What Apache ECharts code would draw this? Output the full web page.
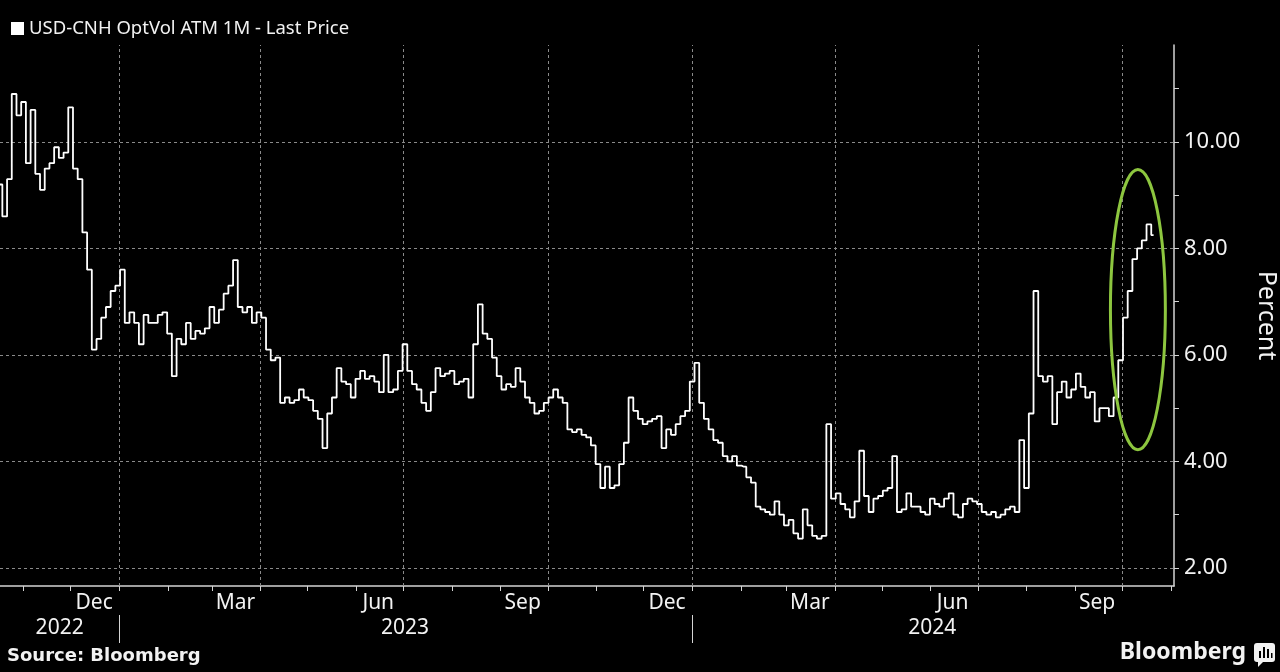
<!DOCTYPE html>
<html>
<head>
<meta charset="utf-8">
<script src="https://cdn.jsdelivr.net/npm/echarts@6/dist/echarts.min.js"></script>
<style>
html,body{margin:0;padding:0;background:#000;}
#chart{width:1280px;height:672px;}
</style>
</head>
<body>
<div id="chart"></div>
<script>
// ---- data ----
const seriesName = 'USD-CNH OptVol ATM 1M - Last Price';
const startDate = '2022-10-17';
const stepDays = 3;
const values = [
  9.2, 8.6, 9.3, 10.9, 10.5, 10.75, 9.6, 10.6, 9.4, 9.1, 9.5, 9.6, 9.9, 9.7, 9.8, 10.65, 9.5, 9.3, 8.3, 7.6,
  6.1, 6.3, 6.7, 6.9, 7.2, 7.3, 7.6, 6.6, 6.8, 6.6, 6.2, 6.75, 6.6, 6.6, 6.75, 6.8, 6.4, 5.6, 6.3, 6.2,
  6.6, 6.3, 6.45, 6.4, 6.5, 6.9, 6.6, 6.85, 7.15, 7.3, 7.78, 6.9,
  6.8, 6.9, 6.6, 6.8, 6.7, 6.1, 5.9, 5.95, 5.1, 5.2, 5.1, 5.15, 5.35, 5.2, 5.15, 4.95, 4.8, 4.25, 4.9, 5.2,
  5.75, 5.5, 5.45, 5.2, 5.55, 5.7, 5.55, 5.6, 5.5, 5.3, 6.0, 5.3, 5.35, 5.7, 6.2, 5.7, 5.45, 5.35, 5.1, 4.95,
  5.3, 5.75, 5.6, 5.65, 5.7, 5.45, 5.5, 5.55, 5.2, 6.2, 6.95,
  6.4, 6.3, 5.95, 5.6, 5.35, 5.45, 5.4, 5.75, 5.5, 5.2, 5.1, 4.9, 4.95, 5.1, 5.2, 5.35, 5.2, 5.1, 4.6, 4.55,
  4.6, 4.5, 4.45, 4.3, 3.95, 3.5, 3.9, 3.5, 3.55, 3.95, 4.35, 5.2, 4.95, 4.8, 4.7, 4.75, 4.8, 4.85, 4.25, 4.6,
  4.5, 4.7, 4.85, 4.95, 5.5, 5.85, 5.1, 4.8, 4.6, 4.4, 4.35,
  4.1, 4.0, 4.1, 3.92, 3.9, 3.7, 3.6, 3.15, 3.1, 3.05, 3.0, 3.25, 3.0, 2.8, 2.9, 2.65, 2.55, 3.1, 2.8, 2.6,
  2.55, 2.6, 4.7, 3.3, 3.4, 3.2, 3.1, 2.95, 3.25, 4.2, 3.35, 3.05, 3.3, 3.35, 3.45, 3.5, 4.1, 3.05, 3.1, 3.4,
  3.15, 3.15, 3.05, 3.0, 3.3, 3.2, 3.15, 3.3, 3.4, 3.0, 2.95,
  3.2, 3.3, 3.25, 3.2, 3.05, 3.0, 3.05, 2.95, 3.0, 3.1, 3.15, 3.05, 4.4, 3.5, 4.9, 7.2, 5.6, 5.5, 5.6, 4.7,
  5.3, 5.5, 5.2, 5.35, 5.65, 5.4, 5.2, 5.3, 4.75, 5.0, 5.0, 4.85, 5.2, 5.9, 6.7, 7.2, 7.8, 8.0, 8.15, 8.45, 8.25
];
const xRange = ['2022-10-17', '2024-11-03'];
const yRange = [1.66, 11.82];
const yTickValues = [2, 3, 4, 5, 6, 7, 8, 9, 10, 11];
const yLabelValues = [2, 4, 6, 8, 10];
const monthTickDates = ['2022-11-01','2022-12-01','2023-01-01','2023-02-01','2023-03-01','2023-04-01','2023-05-01','2023-06-01','2023-07-01','2023-08-01','2023-09-01','2023-10-01','2023-11-01','2023-12-01','2024-01-01','2024-02-01','2024-03-01','2024-04-01','2024-05-01','2024-06-01','2024-07-01','2024-08-01','2024-09-01','2024-10-01','2024-11-01'];
const monthLabelDates = ['2022-12-16','2023-03-16','2023-06-15','2023-09-15','2023-12-16','2024-03-16','2024-06-15','2024-09-15'];
const monthNames = ['Jan','Feb','Mar','Apr','May','Jun','Jul','Aug','Sep','Oct','Nov','Dec'];
const gridDates = ['2023-01-01','2023-04-01','2023-07-01','2023-10-01','2024-01-01','2024-04-01','2024-07-01','2024-10-01'];
const yearTickDates = ['2023-01-01','2024-01-01'];
const yearLabelDates = ['2022-11-24','2023-07-02','2024-06-02'];
const highlightCenter = ['2024-10-11', 6.85];
const highlightRadius = [17.5, 2.63]; // days, percent

// ---- build ----
const ts = s => Date.parse(s + 'T00:00:00Z');
const DAY = 86400000;
const t0 = ts(startDate);
const seriesData = values.map((v, i) => [t0 + i * stepDays * DAY, v]);

const fg = '#f2f2f2';
const axisColor = '#d4d4d4';
const gridStyle = { color: '#8a8a8a', width: 1, type: [3, 3] };
const font = '"Noto Sans", "DejaVu Sans", sans-serif';

const chart = echarts.init(document.getElementById('chart'), null, { renderer: 'canvas' });
const option = {
  backgroundColor: '#000',
  animation: false,
  textStyle: { fontFamily: font },
  legend: {
    show: true, left: 6, top: 14, itemWidth: 13, itemHeight: 13, itemGap: 4,
    icon: 'rect', data: [seriesName],
    textStyle: { color: fg, fontSize: 18.5, fontFamily: font },
    selectedMode: false
  },
  grid: { left: 0, right: 106, top: 45, bottom: 86, containLabel: false, outerBoundsMode: 'none' },
  xAxis: [
    {
      type: 'value', min: ts(xRange[0]), max: ts(xRange[1]), position: 'bottom', scale: true,
      axisLine: { show: true, lineStyle: { color: axisColor, width: 1.5 } },
      axisTick: { show: true, customValues: monthTickDates.map(ts), length: 5, lineStyle: { color: axisColor, width: 1 } },
      axisLabel: {
        customValues: monthLabelDates.map(ts), color: fg, fontSize: 21, margin: 7,
        formatter: v => monthNames[new Date(v).getUTCMonth()]
      },
      splitLine: { show: false }
    },
    {
      type: 'value', min: ts(xRange[0]), max: ts(xRange[1]), position: 'bottom', offset: 29, scale: true,
      axisLine: { show: false },
      axisTick: { show: true, customValues: yearTickDates.map(ts), length: 28, lineStyle: { color: axisColor, width: 1 } },
      axisLabel: {
        customValues: yearLabelDates.map(ts), color: fg, fontSize: 21, margin: 3,
        formatter: v => String(new Date(v).getUTCFullYear())
      },
      splitLine: { show: false }
    }
  ],
  yAxis: {
    type: 'value', position: 'right', min: yRange[0], max: yRange[1],
    axisLine: { show: true, lineStyle: { color: axisColor, width: 1.5 } },
    axisTick: { show: true, customValues: yTickValues, length: 5, lineStyle: { color: axisColor, width: 1 } },
    axisLabel: { customValues: yLabelValues, formatter: v => v.toFixed(2), color: fg, fontSize: 22, margin: 10 },
    splitLine: { show: false },
    name: 'Percent', nameLocation: 'middle', nameGap: 80, nameRotate: -90,
    nameTextStyle: { color: fg, fontSize: 25, fontFamily: font }
  },
  series: [
    {
      name: seriesName, type: 'line', data: seriesData, showSymbol: false, symbol: 'none', step: 'middle',
      lineStyle: { color: '#ffffff', width: 1.8 }, itemStyle: { color: '#ffffff' },
      silent: true, z: 5,
      markLine: {
        silent: true, symbol: ['none', 'none'], label: { show: false }, animation: false,
        lineStyle: gridStyle, emphasis: { disabled: true },
        data: gridDates.map(d => ({ xAxis: ts(d) })).concat(yLabelValues.map(v => ({ yAxis: v })))
      }
    }
  ]
};
chart.setOption(option);

// highlight ellipse and footer
const c = chart.convertToPixel({ xAxisIndex: 0, yAxisIndex: 0 }, [ts(highlightCenter[0]), highlightCenter[1]]);
const e = chart.convertToPixel({ xAxisIndex: 0, yAxisIndex: 0 }, [ts(highlightCenter[0]) + highlightRadius[0] * DAY, highlightCenter[1] + highlightRadius[1]]);
chart.setOption({
  graphic: [
    { type: 'ellipse', shape: { cx: c[0], cy: c[1], rx: Math.abs(e[0] - c[0]), ry: Math.abs(c[1] - e[1]) },
      style: { fill: 'none', stroke: '#8dc63f', lineWidth: 3 }, z: 10, silent: true },
    { type: 'text', left: 7, top: 647, style: { text: 'Source: Bloomberg', fill: fg, font: 'bold 18px "DejaVu Sans", sans-serif' } },
    { type: 'text', right: 34, top: 641, style: { text: 'Bloomberg', fill: fg, font: 'bold 23px "Noto Sans", sans-serif' } },
    { type: 'group', left: 1254, top: 643, children: [
      { type: 'rect', shape: { x: 0, y: 0, width: 21, height: 19, r: 3 }, style: { fill: fg } },
      { type: 'polygon', shape: { points: [[4, 18], [10, 18], [4, 24]] }, style: { fill: fg } },
      { type: 'rect', shape: { x: 5, y: 8, width: 2, height: 7 }, style: { fill: '#000' } },
      { type: 'rect', shape: { x: 9, y: 4, width: 2, height: 11 }, style: { fill: '#000' } },
      { type: 'rect', shape: { x: 13, y: 6, width: 2, height: 9 }, style: { fill: '#000' } },
      { type: 'rect', shape: { x: 17, y: 10, width: 1.5, height: 5 }, style: { fill: '#000' } }
    ] }
  ]
});
</script>
</body>
</html>
